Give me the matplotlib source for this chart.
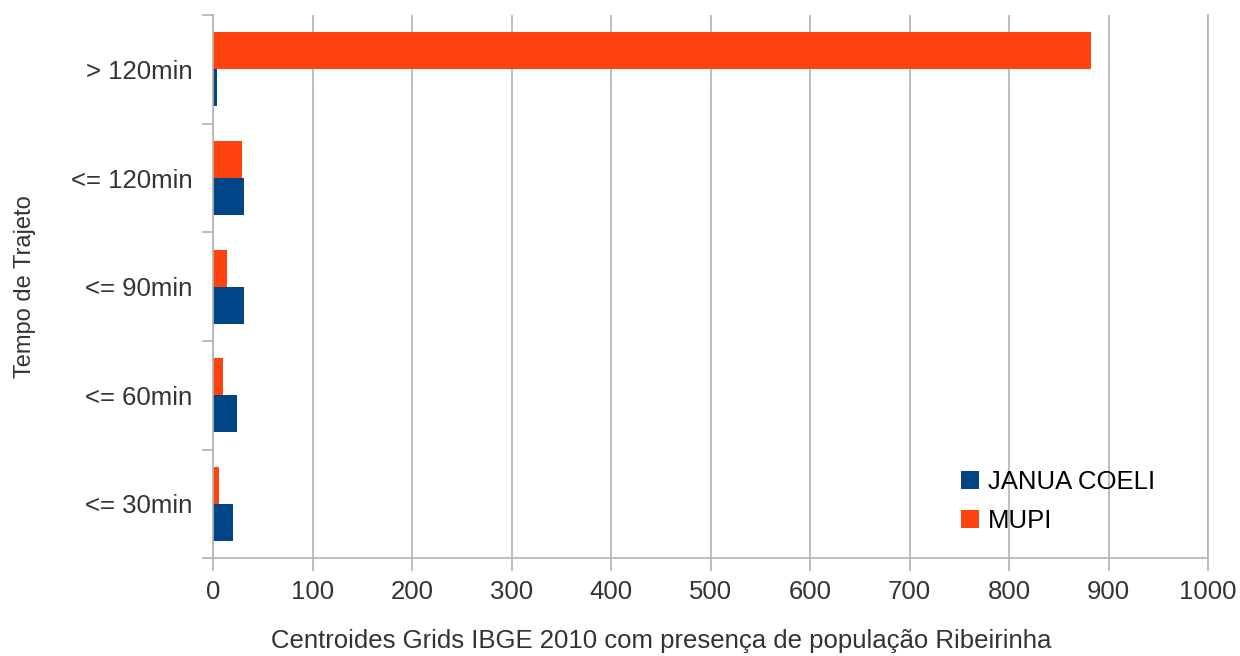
import matplotlib.pyplot as plt
import numpy as np

categories = ["<= 30min", "<= 60min", "<= 90min", "<= 120min", "> 120min"]
janua_coeli = [20, 24, 31, 31, 4]
mupi = [6, 10, 14, 29, 882]
x_ticks = list(range(0, 1001, 100))

plt.rcParams['font.family'] = ['Liberation Sans', 'DejaVu Sans']

fig = plt.figure(figsize=(12.4, 6.56), dpi=100)
ax = fig.add_axes([0.1718, 0.149, 0.8024, 0.828])

y = np.arange(len(categories))
h = 0.34
ax.barh(y - h / 2, janua_coeli, height=h, color="#004586", label="JANUA COELI", zorder=3)
ax.barh(y + h / 2, mupi, height=h, color="#ff420e", label="MUPI", zorder=3)

fs = 18.5
ax.set_xlim(0, 1000)
ax.set_ylim(-0.5, len(categories) - 0.5)
ax.set_xticks(x_ticks)
ax.tick_params(axis="x", labelsize=fs, colors="#b3b3b3", labelcolor="#333333",
               length=9, width=1.2, pad=7)
ax.set_yticks(y)
ax.set_yticklabels(categories)
ax.set_yticks(np.arange(-0.5, len(categories), 1), minor=True)
ax.tick_params(axis="y", which="major", length=0, labelsize=fs,
               labelcolor="#333333", pad=15)
ax.tick_params(axis="y", which="minor", length=8, width=1.2, color="#b3b3b3")

ax.grid(axis="x", color="#b3b3b3", linewidth=1.2, zorder=0)
ax.spines["top"].set_visible(False)
for s in ["left", "bottom", "right"]:
    ax.spines[s].set_color("#b3b3b3")
    ax.spines[s].set_linewidth(1.2)
ax.spines["left"].set_zorder(4)

ax.set_xlabel("Centroides Grids IBGE 2010 com presença de população Ribeirinha",
              fontsize=fs, color="#333333")
ax.xaxis.set_label_coords(0.45, -0.13)
ax.set_ylabel("Tempo de Trajeto", fontsize=17, color="#333333", labelpad=25)

handles, labels = ax.get_legend_handles_labels()
ax.legend(handles, labels, loc="center left", bbox_to_anchor=(0.752, 0.105),
          frameon=False, fontsize=fs, handlelength=0.7, handleheight=0.7,
          handletextpad=0.35, labelspacing=0.6, borderpad=0, borderaxespad=0)

fig.savefig("out.png", dpi=100)
